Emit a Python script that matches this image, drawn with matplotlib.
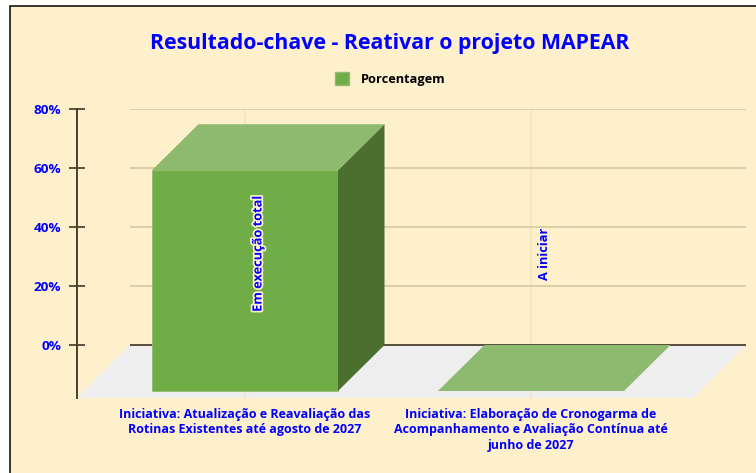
import matplotlib
matplotlib.use("Agg")
import matplotlib.pyplot as plt
import matplotlib.patheffects as pe
from matplotlib.patches import Patch, Polygon, Rectangle

plt.rcParams["font.family"] = ["Open Sans", "DejaVu Sans"]

title = "Resultado-chave - Reativar o projeto MAPEAR"
series_name = "Porcentagem"
categories = [
    "Iniciativa: Atualização e Reavaliação das\nRotinas Existentes até agosto de 2027",
    "Iniciativa: Elaboração de Cronogarma de\nAcompanhamento e Avaliação Contínua até\njunho de 2027",
]
values = [75, 0]
status = ["Em execução total", "A iniciar"]
yticks = [0, 20, 40, 60, 80]

W, H = 756, 473
BLUE = "#0000ff"
CREAM = "#fff0cc"
FRONT = "#70ad47"
TOP = "#8dba6e"
SIDE = "#4b6f2e"
GRID = "#dccfa8"

fig = plt.figure(figsize=(W / 100, H / 100), dpi=100, facecolor="white")
fig.add_artist(Rectangle((10 / W, -0.1), 1, 1.1 - 6.5 / H, transform=fig.transFigure,
                         facecolor=CREAM, edgecolor="black", linewidth=1.1, zorder=-1))

# axes box in pixels, the floor's front edge sits at the bottom
left, right, top, bottom = 76.5, 746, 109.5, 398
ax = fig.add_axes([left / W, 1 - bottom / H, (right - left) / W, (bottom - top) / H])
ax.patch.set_alpha(0)

px_x = 286.0  # pixels per category
px_y = (345 - 109.5) / 80  # pixels per percent
x0 = 245
ax.set_xlim((left - x0) / px_x, (right - x0) / px_x)
ax.set_ylim(-(bottom - 345) / px_y, 80)

# depth of the floor and of the columns
floor_dx, floor_dy = 53 / px_x, 53 / px_y
bar_dx, bar_dy = 46.5 / px_x, 46 / px_y
half = 93 / px_x
xmin, xmax = ax.get_xlim()
ymin = ax.get_ylim()[0]

ax.add_patch(Polygon([(xmin, ymin), (xmin + floor_dx, 0), (xmax, 0), (xmax - floor_dx, ymin)],
                     facecolor="#eeeeee", edgecolor="none", zorder=1))
for y in yticks[1:]:
    ax.plot([xmin + floor_dx, xmax], [y, y], color=GRID, lw=1.4, zorder=1.5, solid_capstyle="butt")
ax.plot([xmin + floor_dx, xmax], [0, 0], color="#4a4030", lw=1.3, zorder=1.6, solid_capstyle="butt")
for i in range(len(categories)):
    ax.plot([i, i], [ymin, 80], color="#f3e4bd", lw=1.2, zorder=1.4)

for i, v in enumerate(values):
    base = -bar_dy
    l, r = i - half, i + half
    if v > 0:
        ax.add_patch(Rectangle((l, base), r - l, v, facecolor=FRONT, edgecolor="#8fbc6f", lw=0.6, zorder=3))
        ax.add_patch(Polygon([(r, base), (r + bar_dx, 0), (r + bar_dx, v), (r, base + v)],
                             facecolor=SIDE, edgecolor="none", zorder=3))
    ax.add_patch(Polygon([(l, base + v), (l + bar_dx, v), (r + bar_dx, v), (r, base + v)],
                         facecolor=TOP, edgecolor="none", zorder=3))

ax.text(0 + 13 / px_x, 31, status[0], rotation=90, ha="center", va="center", color=BLUE,
        fontsize=9.2, fontweight="bold", zorder=5,
        path_effects=[pe.withStroke(linewidth=2.5, foreground=CREAM)])
ax.text(1 + 13 / px_x, 31, status[1], rotation=90, ha="center", va="center", color=BLUE,
        fontsize=9.2, fontweight="bold", zorder=5)

for s in ["top", "right", "bottom"]:
    ax.spines[s].set_visible(False)
ax.spines["left"].set_color("#4a4030")
ax.spines["left"].set_linewidth(1.4)
ax.set_yticks(yticks)
ax.set_yticklabels([f"{y}%" for y in yticks], color=BLUE, fontsize=9.7, fontweight="bold")
ax.tick_params(axis="y", direction="inout", length=11.5, width=1.1, color="#2e2618", pad=5.5)

ax.set_xticks(range(len(categories)))
ax.set_xticklabels(categories, color=BLUE, fontsize=9, fontweight="bold", linespacing=1.25)
ax.tick_params(axis="x", length=0, pad=7)

fig.text(390 / W, 1 - 43.5 / H, title, color=BLUE, fontsize=15.3, fontweight="bold", ha="center", va="center")

fig.legend(handles=[Patch(facecolor=FRONT, edgecolor="#8fbc6f", label=series_name)],
           loc="center", bbox_to_anchor=(390 / W, 1 - 79 / H), frameon=False,
           prop={"size": 9.2, "weight": "bold"}, handlelength=1.1, handleheight=1.1, handletextpad=0.9)

fig.savefig("out.png", dpi=100)
